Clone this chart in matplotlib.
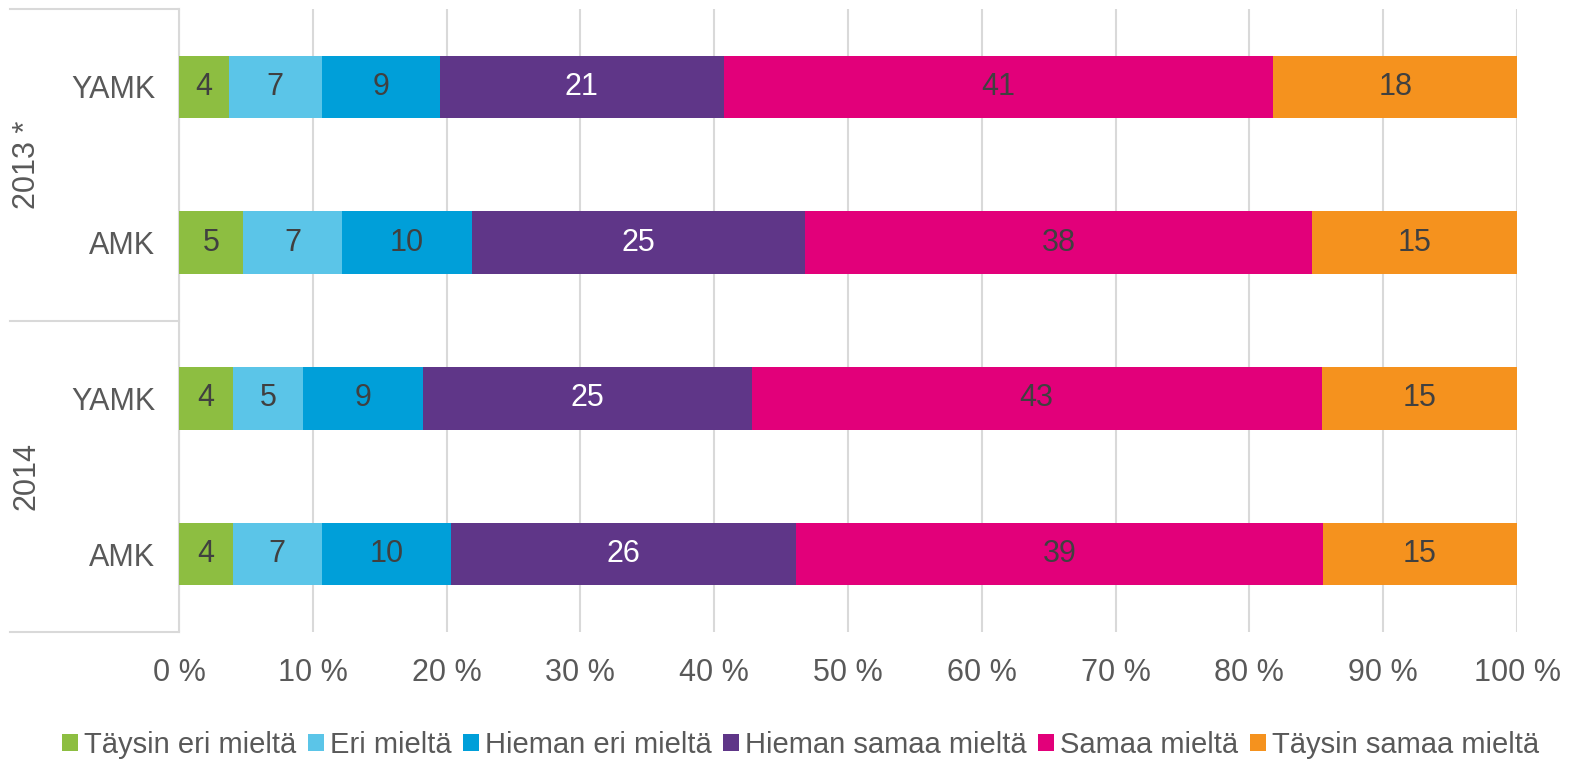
import matplotlib.pyplot as plt
import matplotlib.transforms as mtransforms
import numpy as np

plt.rcParams['font.family'] = ['Liberation Sans', 'DejaVu Sans']

# data (shares in %)
categories = ["YAMK", "AMK", "YAMK", "AMK"]
groups = ["2013 *", "2014"]
series = ["Täysin eri mieltä", "Eri mieltä", "Hieman eri mieltä",
          "Hieman samaa mieltä", "Samaa mieltä", "Täysin samaa mieltä"]
values = [
    [3.7, 7.0, 8.8, 21.2, 41.1, 18.2],
    [4.8, 7.4, 9.7, 24.9, 37.9, 15.3],
    [4.0, 5.3, 8.9, 24.6, 42.6, 14.6],
    [4.0, 6.7, 9.6, 25.8, 39.4, 14.5],
]
labels = [
    [4, 7, 9, 21, 41, 18],
    [5, 7, 10, 25, 38, 15],
    [4, 5, 9, 25, 43, 15],
    [4, 7, 10, 26, 39, 15],
]
colors = ["#8DBE41", "#5BC5E8", "#009FD9", "#5F3688", "#E2007A", "#F5921E"]
text_colors = ["#404040", "#404040", "#404040", "white", "#404040", "#404040"]

grey = "#595959"
line_grey = "#d9d9d9"

fig = plt.figure(figsize=(15.79, 7.67), dpi=100)
ax = fig.add_axes([179 / 1579, 1 - 632 / 767, (1517 - 179) / 1579, (632 - 9) / 767])

vals = np.array(values)
y = np.arange(len(categories))
left = np.zeros(len(categories))
for j, name in enumerate(series):
    bars = ax.barh(y, vals[:, j], left=left, height=0.4, color=colors[j],
                   label=name, zorder=3)
    for i, b in enumerate(bars):
        ax.text(left[i] + vals[i, j] / 2, y[i], str(labels[i][j]),
                ha="center", va="center", fontsize=22, color=text_colors[j],
                zorder=4)
    left += vals[:, j]

ax.set_xlim(0, 100)
ax.set_ylim(3.5, -0.5)
ax.set_xticks(np.arange(0, 101, 10))
ax.set_xticklabels([f"{t} %" for t in range(0, 101, 10)])
ax.set_yticks(y)
ax.set_yticklabels(categories)
ax.tick_params(axis="both", length=0, labelsize=22, colors=grey)
ax.tick_params(axis="y", pad=17)
ax.tick_params(axis="x", pad=19)
ax.grid(axis="x", color=line_grey, linewidth=1.5, zorder=0)
for s in ["top", "right", "bottom"]:
    ax.spines[s].set_visible(False)
ax.spines["left"].set_color(line_grey)
ax.spines["left"].set_linewidth(1.5)

# group separators and labels on the left
trans = mtransforms.blended_transform_factory(ax.transAxes, ax.transData)
x0 = -(179 - 10) / (1517 - 179)
for yy in [-0.5, 1.5, 3.5]:
    ax.plot([x0, 0], [yy, yy], color=line_grey, linewidth=1.5,
            transform=trans, clip_on=False)
xg = -(179 - 27) / (1517 - 179)
for k, g in enumerate(groups):
    ax.text(xg, 2 * k + 0.5, g, rotation=90, ha="center", va="center",
            fontsize=22, color=grey, transform=trans)

fig.legend(loc="center", bbox_to_anchor=(0.507, 1 - 745 / 767), ncol=6,
           frameon=False, fontsize=21, labelcolor=grey, handlelength=0.55,
           handleheight=0.55, handletextpad=0.2, columnspacing=0.4)

fig.savefig("out.png", dpi=100)
